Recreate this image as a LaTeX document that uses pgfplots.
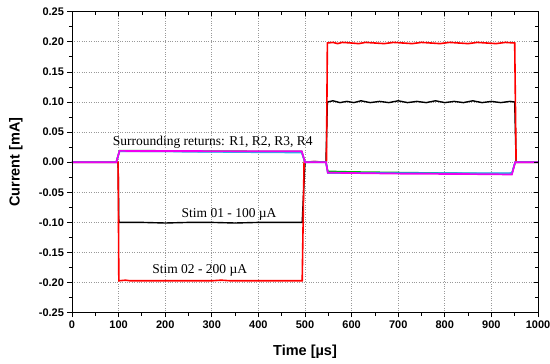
\documentclass[border=0pt]{standalone}
\usepackage{fontspec}
\setmainfont{Liberation Serif}
\setsansfont{Liberation Sans}
\usepackage{pgfplots}
\pgfplotsset{compat=1.18}

\definecolor{rA}{RGB}{0,190,0}
\definecolor{rB}{RGB}{20,60,230}
\definecolor{rC}{RGB}{40,180,230}
\definecolor{rD}{RGB}{240,0,240}

\begin{document}
\begin{tikzpicture}
\begin{axis}[
  name=ax,
  scale only axis,
  width=466bp, height=301bp,
  xmin=0, xmax=1000, ymin=-0.25, ymax=0.25,
  xtick={0,100,200,300,400,500,600,700,800,900,1000},
  ytick={-0.25,-0.20,-0.15,-0.10,-0.05,0,0.05,0.10,0.15,0.20,0.25},
  minor x tick num=1, minor y tick num=1,
  xtick pos=bottom, ytick pos=left,
  tick align=outside,
  major tick length=4.5bp, minor tick length=3bp,
  tick style={black, line width=0.8bp},
  grid=major,
  major grid style={dotted, gray!80, line width=0.7bp},
  axis line style={black, line width=0.9bp},
  /pgf/number format/assume math mode=true,
  yticklabel style={/pgf/number format/.cd, fixed, fixed zerofill, precision=2},
  xticklabel style={/pgf/number format/.cd, fixed, precision=0, 1000 sep={}},
  ticklabel style={font=\sffamily\bfseries\fontsize{11bp}{13bp}\selectfont},
  xlabel={Time [µs]},
  ylabel={Current [mA]},
  every axis x label/.style={at={([yshift=-39bp]axis description cs:0.5,0)}, anchor=center,
    font=\sffamily\bfseries\fontsize{14.5bp}{17bp}\selectfont},
  every axis y label/.style={at={([xshift=-56bp]axis description cs:0,0.5)}, anchor=center, rotate=90,
    font=\sffamily\bfseries\fontsize{14.5bp}{17bp}\selectfont},
  clip=true,
]
% Stim 01 - 100 uA
\addplot[black, line width=1.4bp] coordinates {
  (0,0) (99,0) (100.5,-0.100) (150,-0.100) (200,-0.101) (250,-0.100) (300,-0.100)
  (350,-0.101) (400,-0.100) (450,-0.100) (494,-0.100) (500,0) (520,0.001) (545,0)
  (548,0.100) (560,0.102) (575,0.099) (590,0.101) (605,0.099) (620,0.102) (640,0.099)
  (660,0.101) (680,0.099) (700,0.102) (720,0.099) (740,0.101) (760,0.099) (780,0.102)
  (800,0.099) (820,0.101) (840,0.099) (860,0.102) (880,0.099) (900,0.101) (920,0.099)
  (940,0.101) (950,0.100) (953,0) (1000,0)
};
% Stim 02 - 200 uA
\addplot[red, line width=1.6bp] coordinates {
  (0,0) (99,0) (100.5,-0.197) (115,-0.196) (125,-0.197) (200,-0.197) (300,-0.197)
  (320,-0.196) (340,-0.197) (400,-0.197) (494,-0.197) (498,0) (520,0.001) (546,0)
  (548,0.198) (560,0.199) (570,0.197) (580,0.199) (600,0.198) (615,0.197) (630,0.199)
  (650,0.198) (670,0.197) (690,0.199) (710,0.198) (730,0.197) (750,0.199) (770,0.198)
  (790,0.197) (810,0.199) (830,0.198) (850,0.197) (870,0.199) (890,0.198) (910,0.197)
  (930,0.199) (950,0.198) (953,0) (1000,0)
};
% Surrounding returns R1..R4
\addplot[rA, line width=1.4bp] coordinates {
  (0,0) (95,0) (102,0.0195) (200,0.0190) (300,0.0185) (400,0.0182) (493,0.018) (500,0)
  (545,0) (549,-0.015) (600,-0.016) (700,-0.017) (800,-0.018) (900,-0.019) (944,-0.019) (951,0) (1000,0)
};
\addplot[rB, line width=1.4bp] coordinates {
  (0,0) (95,0) (102,0.018) (200,0.0178) (300,0.0175) (400,0.0172) (493,0.017) (500,0)
  (545,0) (549,-0.017) (600,-0.0175) (700,-0.018) (800,-0.0185) (900,-0.019) (944,-0.019) (951,0) (1000,0)
};
\addplot[rC, line width=1.6bp] coordinates {
  (0,0) (95,0) (102,0.0185) (200,0.018) (300,0.0172) (400,0.0165) (493,0.016) (500,0)
  (545,0) (549,-0.018) (600,-0.018) (700,-0.0182) (800,-0.0182) (900,-0.0182) (944,-0.018) (951,0) (1000,0)
};
\addplot[rD, line width=1.7bp] coordinates {
  (0,0) (95,0) (102,0.0188) (200,0.0186) (300,0.0184) (400,0.0183) (493,0.0182) (500,0)
  (545,0) (549,-0.0175) (600,-0.018) (700,-0.019) (800,-0.0195) (900,-0.020) (944,-0.0205) (951,0) (1000,0)
};
\node[font=\fontsize{13.5bp}{15bp}\selectfont] at (axis cs:302,0.033) {Surrounding returns: R1, R2, R3, R4};
\node[font=\fontsize{13.5bp}{15bp}\selectfont] at (axis cs:337,-0.087) {Stim 01 - 100 µA};
\node[font=\fontsize{13.5bp}{15bp}\selectfont] at (axis cs:274,-0.180) {Stim 02 - 200 µA};
\end{axis}
% mirrored ticks on top and right, pointing inward
\begin{axis}[
  scale only axis,
  width=466bp, height=301bp,
  xmin=0, xmax=1000, ymin=-0.25, ymax=0.25,
  xtick={0,100,200,300,400,500,600,700,800,900,1000},
  ytick={-0.25,-0.20,-0.15,-0.10,-0.05,0,0.05,0.10,0.15,0.20,0.25},
  minor x tick num=1, minor y tick num=1,
  xtick pos=top, ytick pos=right,
  tick align=inside,
  major tick length=4.5bp, minor tick length=3bp,
  tick style={black, line width=0.8bp},
  xticklabels={}, yticklabels={},
  axis line style={black, line width=0.9bp},
]
\end{axis}
\pgfresetboundingbox
\path[use as bounding box] ([shift={(-72bp,-51.3bp)}]ax.south west) rectangle ([shift={(12bp,11.7bp)}]ax.north east);
\end{tikzpicture}
\end{document}
